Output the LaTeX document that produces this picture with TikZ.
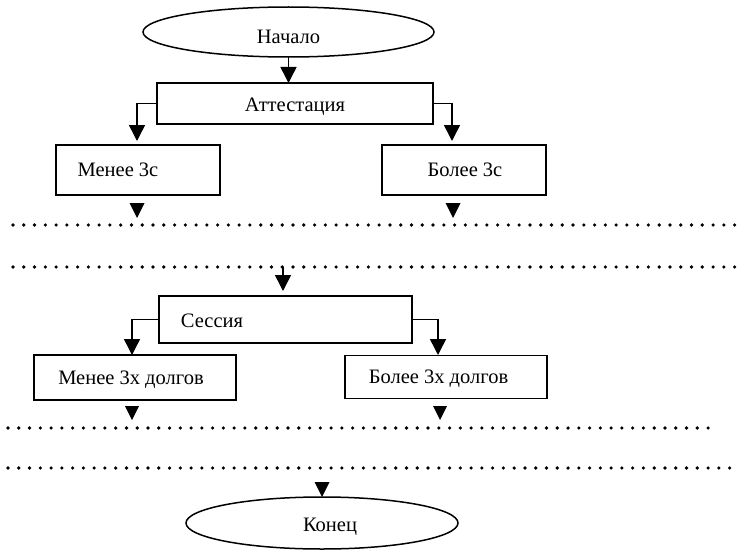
\documentclass[tikz,border=0pt]{standalone}
\usepackage{fontspec}
\setmainfont{Liberation Serif}
\usetikzlibrary{arrows.meta,shapes.geometric}
\begin{document}
\begin{tikzpicture}[x=1pt,y=-1pt,
  box/.style={draw,line width=1.8pt,inner sep=0pt,outer sep=0pt},
  oval/.style={draw,ellipse,line width=1.5pt,inner sep=0pt,outer sep=0pt},
  lbl/.style={inner sep=0pt,font=\fontsize{20.5}{24}\selectfont},
  link/.style={line width=1.5pt,-{Triangle[length=16pt,width=16pt]}},
  dotline/.style={line width=3.6pt,line cap=round,dash pattern=on 0pt off 10.77pt},
  droptip/.pic={\fill (-7.5,0) -- (7.5,0) -- (0,15) -- cycle;},
  smalltip/.pic={\fill (-7,0) -- (7,0) -- (0,14) -- cycle;}]
\useasboundingbox (0,0) rectangle (739,551);

% start
\node[oval,minimum width=291,minimum height=50] (start) at (288.5,32) {};
\node[lbl] (startT) at (288.5,37) {Начало};

% attestation
\node[box,minimum width=276,minimum height=41] (att) at (295,103.5) {};
\node[lbl] (attT) at (295,107) {Аттестация};
\node[box,minimum width=164,minimum height=50] (m3) at (138,170) {};
\node[lbl] (m3T) at (118,170) {Менее 3с};
\node[box,minimum width=164,minimum height=50] (b3) at (464,170) {};
\node[lbl] (b3T) at (465,170) {Более 3с};

\coordinate (m3in) at (137,141);
\coordinate (b3in) at (452,141);
\draw[link] (start.south) -- (start.south |- att.north);
\draw[link] (att.west) -| (m3in);
\draw[link] (att.east) -| (b3in);

\pic at (137,203) {droptip};
\pic at (453,203) {droptip};

\draw[dotline] (13,225) -- (739,225);
\draw[dotline] (13,267) -- (739,267);

% session
\coordinate (sesfrom) at (283,267);
\coordinate (sesin) at (283,291);
\node[box,minimum width=253,minimum height=47] (ses) at (285.5,319.5) {};
\node[lbl] (sesT) at (212,321) {Сессия};
\node[box,minimum width=202,minimum height=45] (m3d) at (135,377.5) {};
\node[lbl] (m3dT) at (131,380) {Менее 3х долгов};
\node[box,minimum width=202,minimum height=43] (b3d) at (446,377) {};
\node[lbl] (b3dT) at (438.5,379) {Более 3х долгов};

\draw[link] (sesfrom) -- (sesin);
\coordinate (m3din) at (132,355);
\coordinate (b3din) at (438,355);
\draw[link] (ses.west) -| (m3din);
\draw[link] (ses.east) -| (b3din);

\pic at (132,406) {smalltip};
\pic at (440,406) {smalltip};

\draw[dotline] (8,428) -- (716,428);
\draw[dotline] (8,468) -- (739,468);

% end
\node[oval,minimum width=272,minimum height=52] (stop) at (322,523) {};
\node[lbl] (stopT) at (330,527) {Конец};
\pic at (322,482) {droptip};
\end{tikzpicture}
\end{document}
